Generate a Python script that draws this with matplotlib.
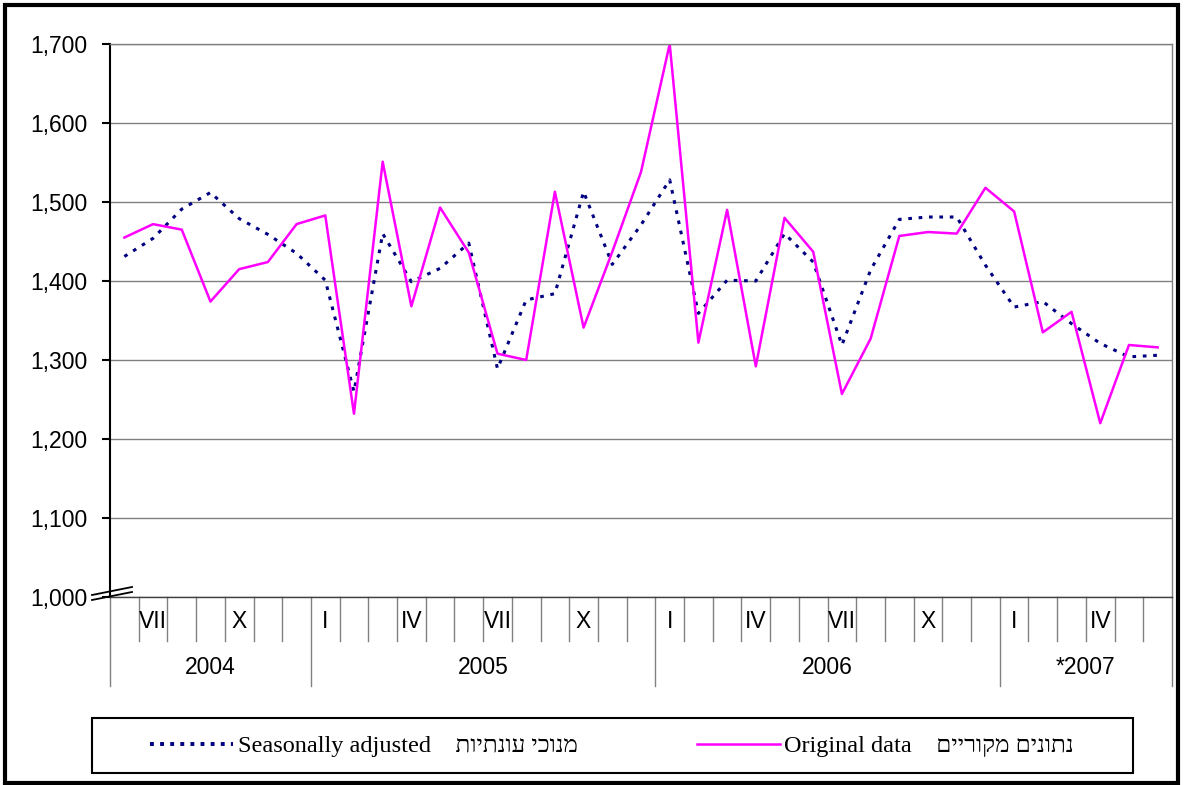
import matplotlib
matplotlib.use("Agg")
import matplotlib.pyplot as plt
import numpy as np
from matplotlib.lines import Line2D
from matplotlib.patches import Rectangle
from matplotlib.ticker import FuncFormatter

# monthly data, June 2004 - June 2007
years = ["2004", "2005", "2006", "*2007"]
months_in_year = [7, 12, 12, 6]
first_month = 6
roman = {1: "I", 4: "IV", 7: "VII", 10: "X"}

original = [1455, 1472, 1465, 1374, 1415, 1424, 1472,
            1483, 1232, 1551, 1368, 1493, 1436, 1308, 1300, 1513, 1341, 1437, 1538,
            1700, 1322, 1490, 1292, 1480, 1437, 1257, 1327, 1457, 1462, 1460, 1518,
            1488, 1335, 1361, 1220, 1319, 1316]
seasonal = [1431, 1454, 1491, 1512, 1479, 1459, 1435,
            1401, 1260, 1460, 1399, 1416, 1448, 1289, 1376, 1384, 1513, 1421, 1471,
            1528, 1359, 1401, 1400, 1460, 1424, 1319, 1414, 1478, 1481, 1481, 1420,
            1367, 1374, 1346, 1321, 1304, 1306]

label_seasonal = "Seasonally adjusted"
label_original = "Original data"
heb_seasonal = "מנוכי עונתיות"
heb_original = "נתונים מקוריים"

W, H = 1191, 785
fig = plt.figure(figsize=(W / 100, H / 100), dpi=100)
plt.rcParams['font.family'] = ['Liberation Sans', 'DejaVu Sans']
fs = 16.5

# plot area in pixels
L, R, T, B = 110, 1172, 44, 597
ax = fig.add_axes([L / W, 1 - B / H, (R - L) / W, (B - T) / H])

x = np.arange(len(original))
ax.plot(x, seasonal, color="#000080", lw=2.2, linestyle=(0, (1.2, 2.2)))
ax.plot(x, original, color="#FF00FF", lw=1.8)

ax.set_xlim(-0.5, len(original) - 0.5)
ax.set_ylim(1000, 1700)
ax.set_yticks(np.arange(1000, 1701, 100))
ax.yaxis.set_major_formatter(FuncFormatter(lambda v, p: f"{int(v):,}"))
ax.tick_params(axis="y", direction="out", length=6, width=1.5, pad=10, labelsize=fs)
ax.set_xticks([])
ax.grid(axis="y", color="#808080", lw=1)
ax.set_axisbelow(True)

ax.spines["left"].set_color("black")
ax.spines["left"].set_linewidth(1.5)
for s in ["top", "right"]:
    ax.spines[s].set_color("#808080")
    ax.spines[s].set_linewidth(1)
ax.spines["bottom"].set_color("#404040")
ax.spines["bottom"].set_linewidth(1)

# category axis drawn by hand: separators, month and year labels
ph = B - T
trans = ax.get_xaxis_transform()
short_y = -(641 - B) / ph
long_y = -(686 - B) / ph
month_y = -(622 - B) / ph
year_y = -(667 - B) / ph

edges = np.cumsum([0] + months_in_year)
for i in range(len(original) + 1):
    yb = long_y if i in edges else short_y
    ax.plot([i - 0.5, i - 0.5], [0, yb], transform=trans, color="#808080",
            lw=1, clip_on=False)

k = 0
m = first_month
for yi, n in enumerate(months_in_year):
    for j in range(n):
        if m in roman:
            ax.text(k, month_y, roman[m], transform=trans, ha="center",
                    va="center", fontsize=fs)
        k += 1
        m = m % 12 + 1
    ax.text(edges[yi] + n / 2 - 0.5, year_y, years[yi], transform=trans,
            ha="center", va="center", fontsize=fs)

# axis break marks
for dy in (0, 5):
    fig.add_artist(Line2D([92 / W, 132 / W], [1 - (600 - dy) / H, 1 - (592 - dy) / H],
                          color="black", lw=1.3))

# legend box
fig.add_artist(Rectangle((92 / W, 1 - 773 / H), (1133 - 92) / W, (773 - 718) / H,
                         fill=False, edgecolor="black", lw=1.5,
                         transform=fig.transFigure))
leg_font = {"family": ["Liberation Serif", "DejaVu Sans"], "size": 17.5}
h1 = Line2D([], [], color="#000080", lw=2.8, linestyle=(0, (1.0, 1.6)))
h2 = Line2D([], [], color="#FF00FF", lw=1.8)
fig.legend([h1], [label_seasonal + "    " + heb_seasonal[::-1]],
           loc="center left", bbox_to_anchor=(150 / W, 1 - 746 / H),
           frameon=False, borderpad=0, borderaxespad=0,
           handlelength=3.4, handletextpad=0.2, prop=leg_font)
fig.legend([h2], [label_original + "    " + heb_original[::-1]],
           loc="center left", bbox_to_anchor=(697 / W, 1 - 746 / H),
           frameon=False, borderpad=0, borderaxespad=0,
           handlelength=3.4, handletextpad=0.2, prop=leg_font)

# outer frame
fig.add_artist(Rectangle((5 / W, 1 - 783 / H), (1178 - 5) / W, (783 - 5) / H,
                         fill=False, edgecolor="black", lw=3,
                         transform=fig.transFigure))

fig.savefig("out.png", dpi=100)
